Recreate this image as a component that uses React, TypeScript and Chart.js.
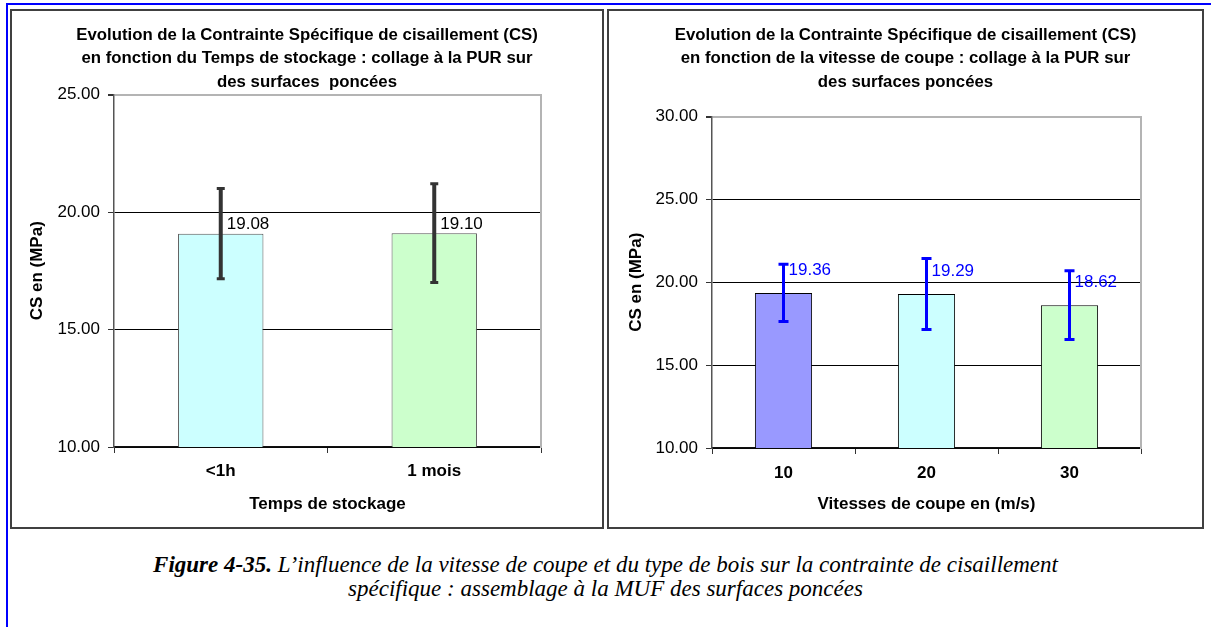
import React, { useEffect, useRef } from "react";
import { Chart, registerables } from "chart.js";

Chart.register(...registerables);

// ---------- Data ----------
const leftTitle = [
  "Evolution de la Contrainte Spécifique de cisaillement (CS)",
  "en fonction du Temps de stockage : collage à la PUR sur",
  "des surfaces  poncées",
];
const leftCategories = ["<1h", "1 mois"];
const leftValues = [19.08, 19.1];
const leftErrors = [1.92, 2.1];
const leftColors = ["#CCFFFF", "#CCFFCC"];
const leftTicks = [10, 15, 20, 25];
const leftXTitle = "Temps de stockage";

const rightTitle = [
  "Evolution de la Contrainte Spécifique de cisaillement (CS)",
  "en fonction de la vitesse de coupe : collage à la PUR sur",
  "des surfaces poncées",
];
const rightCategories = ["10", "20", "30"];
const rightValues = [19.36, 19.29, 18.62];
const rightErrors = [1.73, 2.14, 2.07];
const rightColors = ["#9999FF", "#CCFFFF", "#CCFFCC"];
const rightTicks = [10, 15, 20, 25, 30];
const rightXTitle = "Vitesses de coupe en (m/s)";

const yTitle = "CS en (MPa)";

const FONT = "'Liberation Sans', Arial, Helvetica, sans-serif";

// ---------- Plugin: error bars + value labels ----------
const extrasPlugin = {
  id: "extras",
  afterDatasetsDraw(chart: any, _args: any, opts: any) {
    const { ctx } = chart;
    const y = chart.scales.y;
    const meta = chart.getDatasetMeta(0);
    const ds = chart.data.datasets[0];
    ctx.save();
    meta.data.forEach((bar: any, i: number) => {
      const v = ds.data[i] as number;
      const e = opts.errors[i];
      const yTop = y.getPixelForValue(v + e);
      const yBot = y.getPixelForValue(v - e);
      ctx.strokeStyle = opts.errColor;
      ctx.lineWidth = opts.errWidth;
      ctx.beginPath();
      ctx.moveTo(bar.x, yTop);
      ctx.lineTo(bar.x, yBot);
      ctx.stroke();
      ctx.lineWidth = opts.capWidth;
      ctx.beginPath();
      ctx.moveTo(bar.x - opts.capHalf, yTop);
      ctx.lineTo(bar.x + opts.capHalf, yTop);
      ctx.moveTo(bar.x - opts.capHalf, yBot);
      ctx.lineTo(bar.x + opts.capHalf, yBot);
      ctx.stroke();
    });
    ctx.fillStyle = opts.labelColor;
    ctx.font = `17px ${FONT}`;
    ctx.textAlign = "left";
    ctx.textBaseline = "middle";
    meta.data.forEach((bar: any, i: number) => {
      const v = ds.data[i] as number;
      ctx.fillText(v.toFixed(2), bar.x + opts.labelDx, y.getPixelForValue(v) - opts.labelDy);
    });
    ctx.restore();
  },
};

type Cfg = {
  title: string[];
  categories: string[];
  values: number[];
  errors: number[];
  colors: string[];
  ticks: number[];
  xTitle: string;
  yWidth: number;
  rightWidth: number;
  xHeight: number;
  titlePadBottom: number;
  yTitlePad: number;
  xTickPad: number;
  borderColor: string;
  errColor: string;
  errWidth: number;
  capWidth: number;
  capHalf: number;
  labelColor: string;
  labelDx: number;
  labelDy: number;
};

function ChartPanel({ cfg, width, height }: { cfg: Cfg; width: number; height: number }) {
  const ref = useRef<HTMLCanvasElement>(null);
  useEffect(() => {
    if (!ref.current) return;
    const min = cfg.ticks[0];
    const max = cfg.ticks[cfg.ticks.length - 1];
    const chart = new Chart(ref.current, {
      type: "bar",
      data: {
        labels: cfg.categories,
        datasets: [
          {
            data: cfg.values,
            backgroundColor: cfg.colors,
            borderColor: cfg.borderColor,
            borderWidth: 1,
            categoryPercentage: 1,
            barPercentage: 0.4,
          },
        ],
      },
      options: {
        responsive: false,
        animation: false,
        events: [],
        layout: { padding: 0 },
        plugins: {
          legend: { display: false },
          tooltip: { enabled: false },
          title: {
            display: true,
            text: cfg.title,
            color: "#000",
            font: { family: FONT, size: 16.8, weight: "bold", lineHeight: 1.38 },
            padding: { top: 13, bottom: cfg.titlePadBottom },
          },
          extras: {
            errors: cfg.errors,
            errColor: cfg.errColor,
            errWidth: cfg.errWidth,
            capWidth: cfg.capWidth,
            capHalf: cfg.capHalf,
            labelColor: cfg.labelColor,
            labelDx: cfg.labelDx,
            labelDy: cfg.labelDy,
          },
        } as any,
        scales: {
          x: {
            ticks: { color: "#000", font: { family: FONT, size: 17, weight: "bold" }, padding: cfg.xTickPad },
            grid: {
              offset: true,
              drawOnChartArea: false,
              drawTicks: true,
              tickLength: 6,
              tickColor: "#333",
            },
            border: { color: "#111", width: 1.5 },
            title: {
              display: true,
              text: cfg.xTitle,
              color: "#000",
              font: { family: FONT, size: 17, weight: "bold" },
              padding: { top: 0, bottom: 12 },
            },
            afterFit: (s: any) => {
              s.height = cfg.xHeight;
            },
          },
          y: {
            min,
            max,
            afterBuildTicks: (s: any) => {
              s.ticks = cfg.ticks.map((v) => ({ value: v }));
            },
            ticks: {
              color: "#000",
              font: { family: FONT, size: 17 },
              padding: 8,
              callback: (v: any) => Number(v).toFixed(2),
            },
            grid: {
              color: (c: any) => (c.tick && c.tick.value === max ? "#b4b4b4" : "#000"),
              lineWidth: (c: any) => (c.tick && c.tick.value === max ? 2 : 1),
              drawTicks: true,
              tickLength: 6,
              tickColor: "#333",
            },
            border: { color: "#555", width: 1.5 },
            title: {
              display: true,
              text: yTitle,
              color: "#000",
              font: { family: FONT, size: 17, weight: "bold" },
              padding: { top: cfg.yTitlePad, bottom: 0 },
            },
            afterFit: (s: any) => {
              s.width = cfg.yWidth;
            },
          },
          yRight: {
            axis: "y",
            type: "linear",
            position: "right",
            display: true,
            ticks: { display: false },
            grid: { display: false, drawTicks: false },
            border: { color: "#b4b4b4", width: 2 },
            afterFit: (s: any) => {
              s.width = cfg.rightWidth;
            },
          },
        } as any,
      },
      plugins: [extrasPlugin as any],
    });
    return () => chart.destroy();
  }, [cfg]);
  return <canvas ref={ref} width={width} height={height} style={{ width, height, display: "block" }} />;
}

const leftCfg: Cfg = {
  title: leftTitle,
  categories: leftCategories,
  values: leftValues,
  errors: leftErrors,
  colors: leftColors,
  ticks: leftTicks,
  xTitle: leftXTitle,
  yWidth: 102,
  rightWidth: 61,
  xHeight: 80,
  titlePadBottom: 1,
  yTitlePad: 15,
  xTickPad: 8,
  borderColor: "#555",
  errColor: "#333",
  errWidth: 4,
  capWidth: 3,
  capHalf: 4,
  labelColor: "#000",
  labelDx: 6,
  labelDy: 9,
};

const rightCfg: Cfg = {
  title: rightTitle,
  categories: rightCategories,
  values: rightValues,
  errors: rightErrors,
  colors: rightColors,
  ticks: rightTicks,
  xTitle: rightXTitle,
  yWidth: 103,
  rightWidth: 61,
  xHeight: 79,
  titlePadBottom: 23,
  yTitlePad: 17,
  xTickPad: 9,
  borderColor: "#000",
  errColor: "#0000FF",
  errWidth: 3,
  capWidth: 3,
  capHalf: 5,
  labelColor: "#0000FF",
  labelDx: 5,
  labelDy: 23,
};

export default function App() {
  const panelStyle = (left: number, width: number): React.CSSProperties => ({
    position: "absolute",
    left,
    top: 9,
    width: width - 4,
    height: 516,
    border: "2px solid #404040",
    background: "#fff",
  });
  return (
    <div
      style={{
        position: "fixed",
        left: 0,
        top: 0,
        width: 1211,
        height: 627,
        background: "#fff",
        overflow: "hidden",
      }}
    >
      <div style={{ position: "absolute", left: 6, top: 3, width: 1205, height: 2, background: "#0000FF" }} />
      <div style={{ position: "absolute", left: 6, top: 3, width: 2, height: 624, background: "#0000FF" }} />
      <div style={panelStyle(10, 594)}>
        <ChartPanel cfg={leftCfg} width={590} height={516} />
      </div>
      <div style={panelStyle(607, 597)}>
        <ChartPanel cfg={rightCfg} width={593} height={516} />
      </div>
      <div
        style={{
          position: "absolute",
          left: 0,
          top: 553,
          width: 1211,
          textAlign: "center",
          fontFamily: "'Liberation Serif', 'Times New Roman', serif",
          fontStyle: "italic",
          fontSize: 23,
          lineHeight: "24px",
          color: "#000",
        }}
      >
        <b>Figure 4-35.</b> L’influence de la vitesse de coupe et du type de bois sur la contrainte de cisaillement
        <br />
        spécifique : assemblage à la MUF des surfaces poncées
      </div>
    </div>
  );
}
